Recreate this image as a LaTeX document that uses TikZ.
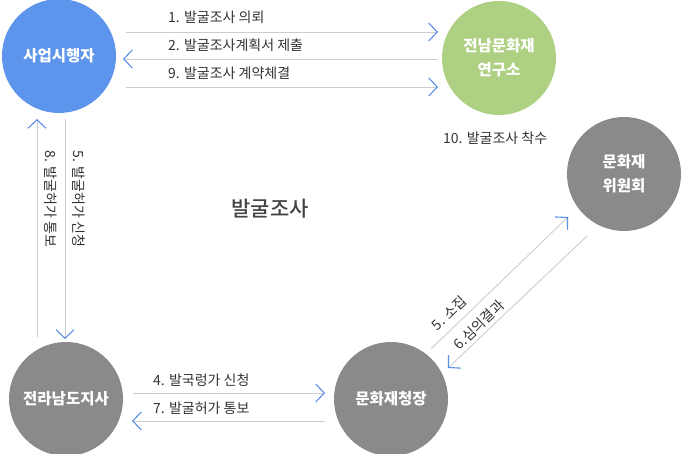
\documentclass[tikz,border=0pt]{standalone}
\usepackage{fontspec}
\setmainfont{Noto Sans CJK KR}
\newfontfamily\midfont{Noto Sans CJK KR Medium}
\usetikzlibrary{arrows.meta}
\definecolor{cblue}{HTML}{5E95EC}
\definecolor{cgreen}{HTML}{AED082}
\definecolor{cgray}{HTML}{8A8A8A}
\definecolor{cline}{HTML}{CCCCCC}
\definecolor{ctip}{HTML}{5C8FE8}
\definecolor{ctext}{HTML}{333333}
\definecolor{cmid}{HTML}{444444}
\tikzset{
  actor/.style={circle, minimum size=114pt, inner sep=0pt, text=white,
    font=\fontsize{15.5}{24}\selectfont\bfseries, align=center},
  conn/.style={draw=cline, line width=0.9pt,
    -{Straight Barb[length=8.5pt,width=18pt,line width=1.1pt,color=ctip]}},
  lbl/.style={text=ctext, font=\fontsize{14}{16}\selectfont, inner sep=0pt},
}
\begin{document}
\begin{tikzpicture}[x=1pt,y=-1pt]
\useasboundingbox (0,0) rectangle (681,454);
% nodes
\node[actor, fill=cblue] (sa) at (59,56) {사업시행자};
\node[actor, fill=cgreen] (yg) at (499,58) {전남문화재\\연구소};
\node[actor, fill=cgray] (wi) at (624,174) {문화재\\위원회};
\node[actor, fill=cgray] (jn) at (66,399) {전라남도지사};
\node[actor, fill=cgray] (mc) at (391,399) {문화재청장};
% end points
\coordinate (a1) at (126,32);  \coordinate (b1) at (438,32);
\coordinate (a2) at (438,59);  \coordinate (b2) at (123,59);
\coordinate (a3) at (126,87);  \coordinate (b3) at (438,87);
\coordinate (a5) at (65,119);  \coordinate (b5) at (65,339);
\coordinate (a8) at (37,337);  \coordinate (b8) at (37,119);
\coordinate (a4) at (133,393); \coordinate (b4) at (325,393);
\coordinate (a7) at (325,421); \coordinate (b7) at (132,421);
\coordinate (c5) at (431,349); \coordinate (d5) at (568,217);
\coordinate (c6) at (587,236); \coordinate (d6) at (448,368);
% connectors
\draw[conn] (a1) -- (b1);
\draw[conn] (a2) -- (b2);
\draw[conn] (a3) -- (b3);
\draw[conn] (a5) -- (b5);
\draw[conn] (a8) -- (b8);
\draw[conn] (a4) -- (b4);
\draw[conn] (a7) -- (b7);
\draw[conn] (c5) -- (d5);
\draw[conn] (c6) -- (d6);
% labels
\node[lbl, anchor=west] (t1) at (168,17) {1. 발굴조사 의뢰};
\node[lbl, anchor=west] (t2) at (168,45) {2. 발굴조사계획서 제출};
\node[lbl, anchor=west] (t9) at (168,73) {9. 발굴조사 계약체결};
\node[lbl, anchor=west] (t10) at (443,138) {10. 발굴조사 착수};
\node[lbl, rotate=-90] (t5) at (79,199) {5. 발굴허가 신청};
\node[lbl, rotate=-90] (t8) at (51,199) {8. 발굴허가 통보};
\node[lbl, anchor=west] (t4) at (153,380) {4. 발국렁가 신청};
\node[lbl, anchor=west] (t7) at (153,408) {7. 발굴허가 통보};
\node[lbl, rotate=44] (t5b) at (449,313) {5. 소집};
\node[lbl, rotate=44] (t6) at (479,325) {6.심의결과};
\node[text=cmid, font=\midfont\fontsize{21}{24}\selectfont, inner sep=0pt] (mid) at (270,209) {발굴조사};
\end{tikzpicture}
\end{document}
